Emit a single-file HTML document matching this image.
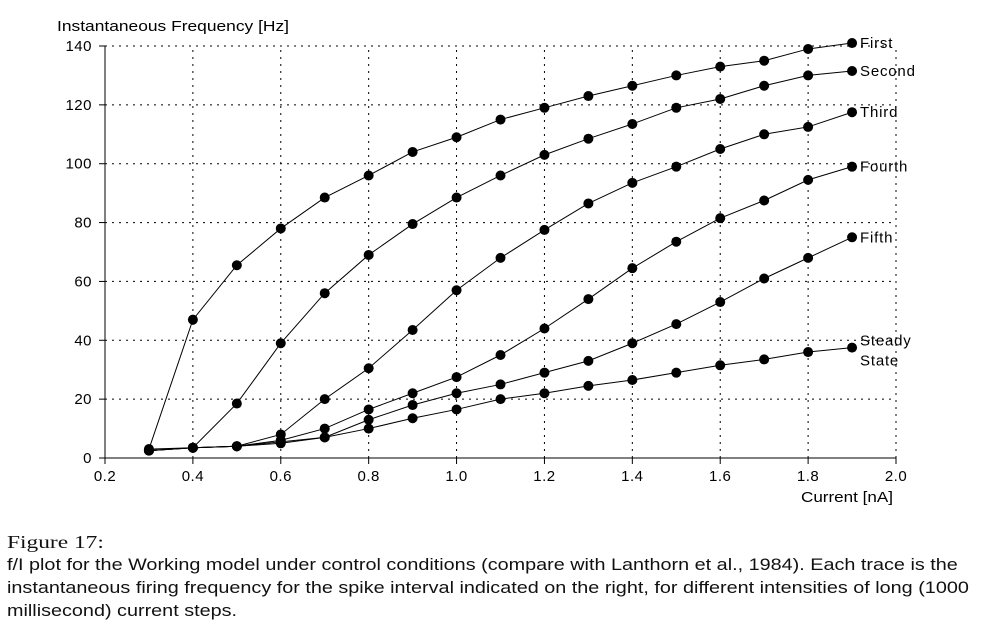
<!DOCTYPE html>
<html><head><meta charset="utf-8"><style>
body{margin:0;background:#fff;width:986px;height:631px;overflow:hidden;font-family:"Liberation Sans",sans-serif}
.cap{position:absolute;left:7px;font-size:17px;color:#111;white-space:nowrap;transform-origin:0 0}
</style></head><body>
<svg id="chart" width="986" height="520" style="position:absolute;left:0;top:0" font-family="Liberation Sans, sans-serif" font-size="15"></svg>
<div class="cap" style="top:532px;font-family:'Liberation Serif',serif;font-size:18px;transform:scaleX(1.3)">Figure 17:</div>
<div class="cap" style="top:555px;transform:scaleX(1.165)">f/I plot for the Working model under control conditions (compare with Lanthorn et al., 1984). Each trace is the</div>
<div class="cap" style="top:578px;transform:scaleX(1.165)">instantaneous firing frequency for the spike interval indicated on the right, for different intensities of long (1000</div>
<div class="cap" style="top:601px;transform:scaleX(1.165)">millisecond) current steps.</div>
<script>
const xs=[0.3,0.4,0.5,0.6,0.7,0.8,0.9,1.0,1.1,1.2,1.3,1.4,1.5,1.6,1.7,1.8,1.9];
const seriesNames=["First","Second","Third","Fourth","Fifth","Steady State"];
const first=[3,47,65.5,78,88.5,96,104,109,115,119,123,126.5,130,133,135,139,141];
const second=[3,3.5,18.5,39,56,69,79.5,88.5,96,103,108.5,113.5,119,122,126.5,130,131.5];
const third=[2.5,3.5,4,8,20,30.5,43.5,57,68,77.5,86.5,93.5,99,105,110,112.5,117.5];
const fourth=[2.5,3.5,4,6,10,16.5,22,27.5,35,44,54,64.5,73.5,81.5,87.5,94.5,99];
const fifth=[2.5,3.5,4,5.5,7,13,18,22,25,29,33,39,45.5,53,61,68,75];
const steady=[2.5,3.5,4,5,7,10,13.5,16.5,20,22,24.5,26.5,29,31.5,33.5,36,37.5];
const xTicks=[0.2,0.4,0.6,0.8,1.0,1.2,1.4,1.6,1.8,2.0];
const yTicks=[0,20,40,60,80,100,120,140];
const all=[first,second,third,fourth,fifth,steady];
const X=v=>105+(v-0.2)/1.8*791, Y=v=>458-v/140*412;
const svg=document.getElementById('chart');const NS='http://www.w3.org/2000/svg';
function el(t,a,txt){const e=document.createElementNS(NS,t);for(const k in a)e.setAttribute(k,a[k]);if(txt!=null)e.textContent=txt;svg.appendChild(e);return e;}
xTicks.forEach(t=>{
 if(t>0.2){const g=el('line',{x1:X(t),x2:X(t),y1:Y(0),y2:Y(140),stroke:'#000','stroke-dasharray':'2 5'});
 }
 const k=el('line',{x1:X(t),x2:X(t),y1:458,y2:464,stroke:'#000'});
 
 const l=el('text',{x:X(t),y:481,'text-anchor':'middle','letter-spacing':'0.5'},t.toFixed(1));
 
});
yTicks.forEach(t=>{
 if(t>0){const g=el('line',{x1:X(0.2),x2:X(2.0),y1:Y(t),y2:Y(t),stroke:'#000','stroke-dasharray':'2 5'});
 }
 const k=el('line',{x1:99,x2:105,y1:Y(t),y2:Y(t),stroke:'#000'});
 
 const l=el('text',{x:92,y:Y(t)+5,'text-anchor':'end','letter-spacing':'0.5'},t);
 
});
let a=el('line',{x1:105,x2:105,y1:Y(140),y2:458,stroke:'#000'});
a=el('line',{x1:105,x2:896,y1:458,y2:458,stroke:'#000'});
a=el('text',{x:57,y:31,textLength:232,lengthAdjust:'spacingAndGlyphs'},'Instantaneous Frequency [Hz]');
a=el('text',{x:801,y:502,textLength:92,lengthAdjust:'spacingAndGlyphs'},'Current [nA]');
all.forEach((s,i)=>{
 const p=el('polyline',{points:s.map((v,j)=>X(xs[j])+','+Y(v)).join(' '),fill:'none',stroke:'#000','stroke-width':1});
 
 s.forEach((v,j)=>{const c=el('circle',{cx:X(xs[j]),cy:Y(v),r:5,fill:'#000'});
  });
 const lx=X(xs[xs.length-1])+8, ly=Y(s[s.length-1])+5;
 const nm=seriesNames[i];
 if(nm==='Steady State'){
  const t1=el('text',{x:lx,y:ly-7,'letter-spacing':'0.8'},'Steady');
  const t2=el('text',{x:lx,y:ly+13,'letter-spacing':'0.8'},'State');
 }else{const t=el('text',{x:lx,y:ly,'letter-spacing':'0.8'},nm);}
});
</script>
</body></html>
